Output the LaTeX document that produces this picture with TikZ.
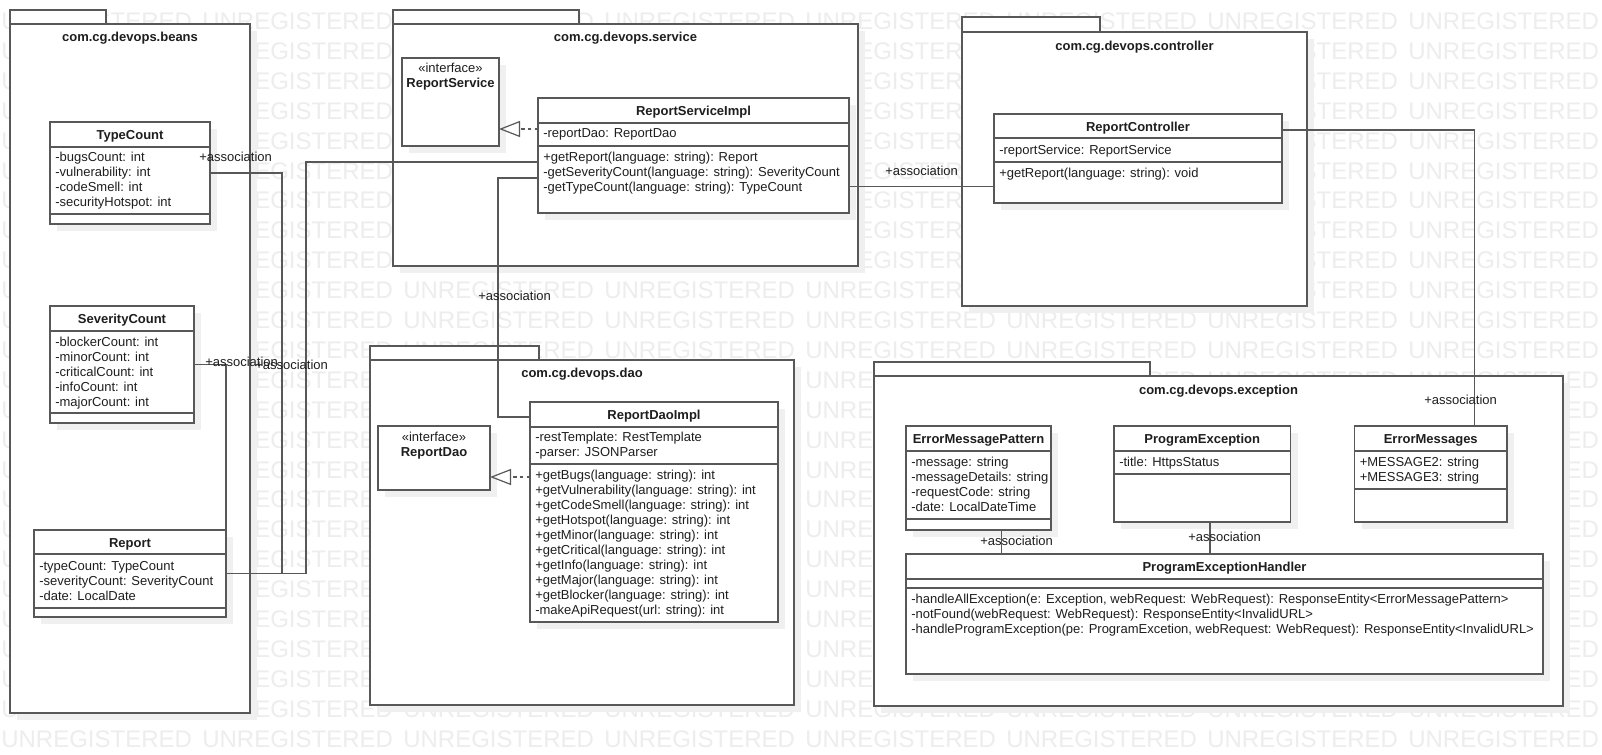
\documentclass[tikz,border=0pt]{standalone}
\usepackage{fontspec}
\setmainfont{Liberation Sans}
\usetikzlibrary{arrows.meta}
\usetikzlibrary{fit}
\usetikzlibrary{shadows}
\definecolor{linea}{RGB}{88,88,88}
\definecolor{sombra}{RGB}{240,240,240}
\definecolor{marca}{RGB}{237,237,237}
\definecolor{texto}{RGB}{30,30,30}

\begin{document}
\begin{tikzpicture}[x=0.75pt,y=-0.75pt,
  txt/.style={anchor=base west,inner sep=0pt,text=texto,font=\fontsize{9.75}{11.25}\selectfont},
  tit/.style={anchor=base,inner sep=0pt,text=texto,font=\bfseries\fontsize{9.75}{11.25}\selectfont},
  ctxt/.style={anchor=base,inner sep=0pt,text=texto,font=\fontsize{9.75}{11.25}\selectfont},
  wm/.style={anchor=base west,inner sep=0pt,text=marca,font=\fontsize{18}{20}\selectfont},
  caja/.style={draw=linea,fill=white,line width=1.1pt,inner sep=0pt,outer sep=0pt,
    drop shadow={shadow xshift=5.25pt,shadow yshift=-5.25pt,fill=sombra,opacity=1}},
  tab/.style={draw=linea,fill=white,line width=1.1pt},
  sep/.style={draw=linea,line width=1.1pt},
  assoc/.style={draw=linea,line width=0.9pt},
  realiz/.style={draw=linea,line width=0.9pt,dash pattern=on 2.5pt off 2.5pt,
    -{Triangle[open,length=15.75pt,width=12pt]}}]
  \useasboundingbox (0,0) rectangle (1602,754);
  \fill[white] (0,0) rectangle (1602,754);
  % Marca de agua
  \foreach \j in {0,...,24}
    \foreach \i in {0,...,7}
      \node[wm] (wm-\j-\i) at ({1+201*\i},{29.5+29.9*\j}) {UNREGISTERED};
  % Paquetes
  \draw[tab] (10,10) rectangle (106,24);
  \node[caja,fit={(10,24) (250,713)}] (beans) {};
  \node[tit] (beans-t) at (130,41.5) {com.cg.devops.beans};
  \draw[tab] (393,10) rectangle (579,24);
  \node[caja,fit={(393,24) (858,266)}] (service) {};
  \node[tit] (service-t) at (625.5,41.5) {com.cg.devops.service};
  \draw[tab] (962,17) rectangle (1100,32);
  \node[caja,fit={(962,32) (1307,306)}] (controller) {};
  \node[tit] (controller-t) at (1134.5,50.5) {com.cg.devops.controller};
  \draw[tab] (370,346) rectangle (539,360);
  \node[caja,fit={(370,360) (794,705)}] (dao) {};
  \node[tit] (dao-t) at (582,377.5) {com.cg.devops.dao};
  \draw[tab] (874,362) rectangle (1150,376);
  \node[caja,fit={(874,376) (1563,706)}] (exception) {};
  \node[tit] (exception-t) at (1218.5,394.5) {com.cg.devops.exception};
  % TypeCount
  \node[caja,fit={(50,122) (210,224)}] (tc) {};
  \draw[sep] (50,147) -- (210,147) (50,214) -- (210,214);
  \node[tit] (tc-t) at (130,139) {TypeCount};
  \foreach \s [count=\k from 0] in {-bugsCount: int,-vulnerability: int,-codeSmell: int,-securityHotspot: int}
    \node[txt] (tc-a\k) at (55,{161.5+15*\k}) {\s};
  % SeverityCount
  \node[caja,fit={(50,306) (194,423)}] (sc) {};
  \draw[sep] (50,331) -- (194,331) (50,413) -- (194,413);
  \node[tit] (sc-t) at (122,323) {SeverityCount};
  \foreach \s [count=\k from 0] in {-blockerCount: int,-minorCount: int,-criticalCount: int,-infoCount: int,-majorCount: int}
    \node[txt] (sc-a\k) at (55,{346.5+15*\k}) {\s};
  % Report
  \node[caja,fit={(34,530) (226,617)}] (rp) {};
  \draw[sep] (34,554) -- (226,554) (34,608) -- (226,608);
  \node[tit] (rp-t) at (130,547) {Report};
  \foreach \s [count=\k from 0] in {-typeCount: TypeCount,-severityCount: SeverityCount,-date: LocalDate}
    \node[txt] (rp-a\k) at (39,{570.5+15*\k}) {\s};
  % ReportService
  \node[caja,fit={(402,58) (499,146)}] (rs) {};
  \node[ctxt] (rs-s) at (450.5,72.5) {«interface»};
  \node[tit] (rs-t) at (450.5,87.5) {ReportService};
  % ReportServiceImpl
  \node[caja,fit={(538,98) (849,213)}] (rsi) {};
  \draw[sep] (538,123) -- (849,123) (538,146) -- (849,146);
  \node[tit] (rsi-t) at (693.5,115) {ReportServiceImpl};
  \node[txt] (rsi-a0) at (543,137.5) {-reportDao: ReportDao};
  \foreach \s [count=\k from 0] in {+getReport(language: string): Report,-getSeverityCount(language: string): SeverityCount,-getTypeCount(language: string): TypeCount}
    \node[txt] (rsi-o\k) at (543,{161.5+15*\k}) {\s};
  % ReportController
  \node[caja,fit={(994,114) (1282,203)}] (rc) {};
  \draw[sep] (994,138) -- (1282,138) (994,162) -- (1282,162);
  \node[tit] (rc-t) at (1138,131) {ReportController};
  \node[txt] (rc-a0) at (999,154.5) {-reportService: ReportService};
  \node[txt] (rc-o0) at (999,177.5) {+getReport(language: string): void};
  % ReportDao
  \node[caja,fit={(378,426) (490,490)}] (rd) {};
  \node[ctxt] (rd-s) at (434,441.5) {«interface»};
  \node[tit] (rd-t) at (434,456.5) {ReportDao};
  % ReportDaoImpl
  \node[caja,fit={(530,402) (778,622)}] (rdi) {};
  \draw[sep] (530,427) -- (778,427) (530,464) -- (778,464);
  \node[tit] (rdi-t) at (654,419) {ReportDaoImpl};
  \foreach \s [count=\k from 0] in {-restTemplate: RestTemplate,-parser: JSONParser}
    \node[txt] (rdi-a\k) at (535,{441.5+15*\k}) {\s};
  \foreach \s [count=\k from 0] in {+getBugs(language: string): int,+getVulnerability(language: string): int,+getCodeSmell(language: string): int,+getHotspot(language: string): int,+getMinor(language: string): int,+getCritical(language: string): int,+getInfo(language: string): int,+getMajor(language: string): int,+getBlocker(language: string): int,-makeApiRequest(url: string): int}
    \node[txt] (rdi-o\k) at (535,{479.5+15*\k}) {\s};
  % ErrorMessagePattern
  \node[caja,fit={(906,426) (1051,530)}] (emp) {};
  \draw[sep] (906,451) -- (1051,451) (906,519) -- (1051,519);
  \node[tit] (emp-t) at (978.5,443) {ErrorMessagePattern};
  \foreach \s [count=\k from 0] in {-message: string,-messageDetails: string,-requestCode: string,-date: LocalDateTime}
    \node[txt] (emp-a\k) at (911,{466.5+15*\k}) {\s};
  % ProgramException
  \node[caja,fit={(1114,426) (1290.5,522)}] (pe) {};
  \draw[sep] (1114,451) -- (1290.5,451) (1114,474) -- (1290.5,474);
  \node[tit] (pe-t) at (1202.25,443) {ProgramException};
  \node[txt] (pe-a0) at (1119,466.5) {-title: HttpsStatus};
  % ErrorMessages
  \node[caja,fit={(1354.5,426) (1507,522)}] (em) {};
  \draw[sep] (1354.5,451) -- (1507,451) (1354.5,489) -- (1507,489);
  \node[tit] (em-t) at (1430.75,443) {ErrorMessages};
  \foreach \s [count=\k from 0] in {+MESSAGE2: string,+MESSAGE3: string}
    \node[txt] (em-a\k) at (1359.5,{466.5+15*\k}) {\s};
  % ProgramExceptionHandler
  \node[caja,fit={(906,554) (1543,674)}] (peh) {};
  \draw[sep] (906,579) -- (1543,579) (906,588) -- (1543,588);
  \node[tit] (peh-t) at (1224.5,571) {ProgramExceptionHandler};
  \foreach \s [count=\k from 0] in {{-handleAllException(e: Exception, webRequest: WebRequest): ResponseEntity<ErrorMessagePattern>},{-notFound(webRequest: WebRequest): ResponseEntity<InvalidURL>},{-handleProgramException(pe: ProgramExcetion, webRequest: WebRequest): ResponseEntity<InvalidURL>}}
    \node[txt] (peh-o\k) at (911,{603.5+15*\k}) {\s};
  % Realizaciones
  \draw[realiz] (rsi.west |- 0,129) -- (rs.east |- 0,129);
  \draw[realiz] (rdi.west |- 0,477) -- (rd.east |- 0,477);
  % Asociaciones
  \draw[assoc] (tc.east) -- (282,173) |- (rp.east);
  \draw[assoc] (sc.east) -| (rp.north east);
  \draw[assoc] (rsi.west |- 0,162) -| (306,573.5) -- (rp.east);
  \draw[assoc] (rsi.west |- 0,178) -| (498,417) -- (rdi.west |- 0,417);
  \draw[assoc] (rsi.east |- 0,186.5) -- (rc.west |- 0,186.5);
  \draw[assoc] (rc.east |- 0,130) -| (em.north -| 1474.5,0);
  \draw[assoc] (emp.south -| 1001.5,0) -- (peh.north -| 1001.5,0);
  \draw[assoc] (pe.south -| 1210,0) -- (peh.north -| 1210,0);
  % Etiquetas
  \node[txt] (l-tc) at (199,161.5) {+association};
  \node[txt] (l-sc) at (205,366.5) {+association};
  \node[txt] (l-rsi) at (255,369.5) {+association};
  \node[txt] (l-rdi) at (478,300.5) {+association};
  \node[txt] (l-rc) at (885,175.5) {+association};
  \node[txt] (l-em) at (1424,404.5) {+association};
  \node[txt] (l-emp) at (980,545.5) {+association};
  \node[txt] (l-pe) at (1188,541.5) {+association};
\end{tikzpicture}
\end{document}
